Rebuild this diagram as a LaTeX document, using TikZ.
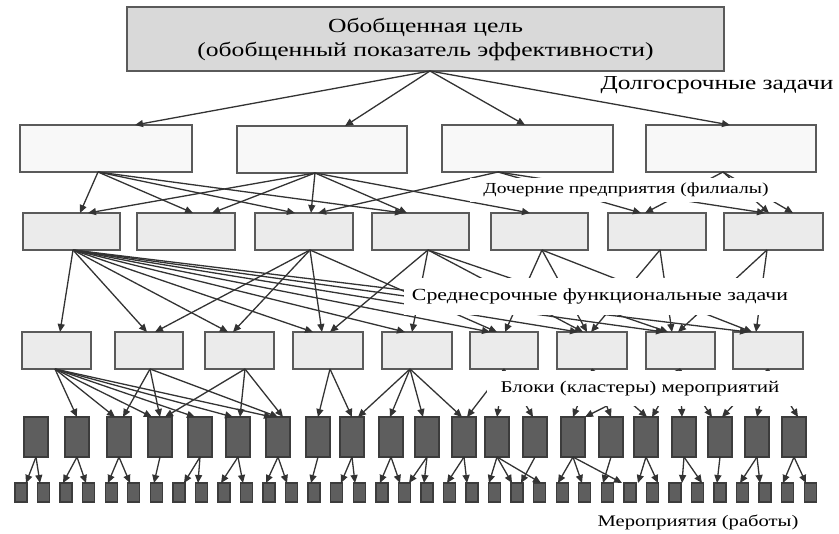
\documentclass[tikz,border=0pt]{standalone}
\usepackage{fontspec}
\usepackage{graphicx}
\setmainfont{Liberation Serif}
\usetikzlibrary{arrows.meta,calc}
\definecolor{edgec}{HTML}{333333}
\definecolor{bordc}{HTML}{5A5A5A}
\definecolor{dkbord}{HTML}{3C3C3C}
\definecolor{topfill}{HTML}{D9D9D9}
\definecolor{lonefill}{HTML}{F8F8F8}
\definecolor{ltwofill}{HTML}{EBEBEB}
\definecolor{dkfill}{HTML}{5E5E5E}
\newcommand\bx[6]{\node[#2, minimum width=#5pt, minimum height=#6pt] (#1) at (#3,#4) {};}
\newcommand\ed[3]{\draw[edge] (#1) -- (#2.north -| #3,0);}
\newcommand\sx[1]{\scalebox{1.28}[1]{#1}}
\begin{document}
\begin{tikzpicture}[x=1pt,y=-1pt,
  box/.style={draw=bordc, line width=1.4pt, inner sep=0pt, outer sep=0pt, anchor=north west},
  topbox/.style={box, fill=topfill},
  lonebox/.style={box, fill=lonefill},
  ltwobox/.style={box, fill=ltwofill},
  dkbox/.style={box, fill=dkfill, draw=dkbord},
  edge/.style={draw=edgec, line width=1.3pt, -{Triangle[length=8pt,width=7pt]}},
  mask/.style={fill=white, inner sep=0pt, outer sep=0pt},
]
\useasboundingbox (0,0) rectangle (839,534);
% top
\node[topbox, minimum width=597pt, minimum height=64pt, align=center,
  font=\fontsize{20}{24}\selectfont] (T) at (127,7)
  {\sx{Обобщенная цель}\\\sx{(обобщенный показатель эффективности)}};
\node[font=\fontsize{19.8}{22}\selectfont, inner sep=0pt] (Ll) at (717,85) {\sx{Долгосрочные задачи}};
% level 1
\bx{A1}{lonebox}{20}{125}{172}{47}
\bx{A2}{lonebox}{237}{126}{170}{47}
\bx{A3}{lonebox}{442}{125}{171}{47}
\bx{A4}{lonebox}{646}{125}{170}{47}
% level 2
\bx{B1}{ltwobox}{23}{213}{97}{37}
\bx{B2}{ltwobox}{137}{213}{98}{37}
\bx{B3}{ltwobox}{255}{213}{98}{37}
\bx{B4}{ltwobox}{372}{213}{97}{37}
\bx{B5}{ltwobox}{491}{213}{97}{37}
\bx{B6}{ltwobox}{608}{213}{98}{37}
\bx{B7}{ltwobox}{724}{213}{99}{37}
% level 3
\bx{C1}{ltwobox}{22}{332}{69}{37}
\bx{C2}{ltwobox}{115}{332}{68}{37}
\bx{C3}{ltwobox}{205}{332}{69}{37}
\bx{C4}{ltwobox}{293}{332}{70}{37}
\bx{C5}{ltwobox}{382}{332}{70}{37}
\bx{C6}{ltwobox}{470}{332}{68}{37}
\bx{C7}{ltwobox}{557}{332}{70}{37}
\bx{C8}{ltwobox}{646}{332}{69}{37}
\bx{C9}{ltwobox}{733}{332}{70}{37}
% level 4
\foreach \i/\xx in {1/24,2/65,3/107,4/148,5/188,6/226,7/266,8/306,9/340,10/379,11/415,
  12/452,13/485,14/523,15/561,16/599,17/634,18/672,19/708,20/745,21/782}
  {\bx{D\i}{dkbox}{\xx}{417}{24}{40}}
% level 5
\foreach \i in {1,...,36}
  {\pgfmathsetmacro\xx{15+22.55*(\i-1)}\bx{E\i}{dkbox}{\xx}{483}{12}{19}}
% source points
\coordinate (sT) at (T.south -| 430,0);
\coordinate (sA1) at (A1.south -| 98,0);
\coordinate (sA2) at (A2.south -| 315,0);
\coordinate (sA3) at (A3.south -| 498,0);
\coordinate (sA4) at (A4.south -| 723,0);
\coordinate (sB1) at (B1.south -| 73,0);
\coordinate (sB3) at (B3.south -| 310,0);
\coordinate (sB4) at (B4.south -| 428,0);
\coordinate (sB5) at (B5.south -| 542,0);
\coordinate (sB6) at (B6.south -| 660,0);
\coordinate (sB7) at (B7.south -| 767,0);
\coordinate (sC1) at (C1.south -| 55,0);
\coordinate (sC2) at (C2.south -| 150,0);
\coordinate (sC3) at (C3.south -| 245,0);
\coordinate (sC4) at (C4.south -| 330,0);
\coordinate (sC5) at (C5.south -| 410,0);
\coordinate (sC6) at (C6.south -| 504,0);
\coordinate (sC7) at (C7.south -| 592,0);
\coordinate (sC8) at (C8.south -| 680,0);
\coordinate (sC9) at (C9.south -| 768,0);
% top -> level 1
\ed{sT}{A1}{135}\ed{sT}{A2}{345}\ed{sT}{A3}{525}\ed{sT}{A4}{730}
% level 1 -> level 2
\ed{sA1}{B1}{80}\ed{sA1}{B2}{193}\ed{sA1}{B3}{295}\ed{sA1}{B4}{403}
\ed{sA2}{B1}{88}\ed{sA2}{B2}{212}\ed{sA2}{B3}{311}\ed{sA2}{B4}{407}\ed{sA2}{B5}{530}
\ed{sA3}{B3}{318}\ed{sA3}{B6}{641}\ed{sA3}{B7}{765}
\ed{sA4}{B6}{645}\ed{sA4}{B7}{769}\ed{sA4}{B7}{793}
% level 2 -> level 3
\ed{sB1}{C1}{60}\ed{sB1}{C2}{147}\ed{sB1}{C3}{228}\ed{sB1}{C4}{313}\ed{sB1}{C5}{405}
\ed{sB1}{C6}{490}\ed{sB1}{C7}{578}\ed{sB1}{C8}{664}\ed{sB1}{C9}{748}
\ed{sB3}{C2}{155}\ed{sB3}{C3}{233}\ed{sB3}{C4}{322}\ed{sB3}{C6}{497}
\ed{sB4}{C4}{330}\ed{sB4}{C5}{412}\ed{sB4}{C7}{583}\ed{sB4}{C8}{668}
\ed{sB5}{C6}{505}\ed{sB5}{C7}{587}\ed{sB5}{C9}{752}
\ed{sB6}{C7}{591}\ed{sB6}{C8}{672}
\ed{sB7}{C8}{678}\ed{sB7}{C9}{756}
% level 3 -> level 4
\ed{sC1}{D2}{77}\ed{sC1}{D3}{115}\ed{sC1}{D4}{152}\ed{sC1}{D5}{195}\ed{sC1}{D6}{233}\ed{sC1}{D7}{272}
\ed{sC2}{D3}{123}\ed{sC2}{D4}{160}\ed{sC2}{D7}{278}
\ed{sC3}{D4}{165}\ed{sC3}{D6}{240}\ed{sC3}{D7}{283}
\ed{sC4}{D8}{318}\ed{sC4}{D9}{352}
\ed{sC5}{D9}{358}\ed{sC5}{D10}{390}\ed{sC5}{D11}{423}\ed{sC5}{D12}{462}
\ed{sC6}{D12}{467}\ed{sC6}{D13}{497}\ed{sC6}{D14}{533}
\ed{sC7}{D15}{573}\ed{sC7}{D16}{611}\ed{sC7}{D17}{647}
\ed{sC8}{D15}{585}\ed{sC8}{D17}{652}\ed{sC8}{D18}{682}\ed{sC8}{D19}{712}
\ed{sC9}{D19}{722}\ed{sC9}{D20}{757}\ed{sC9}{D21}{798}
% level 4 -> level 5
\ed{D1.south}{E1}{26}\ed{D1.south}{E2}{40}
\ed{D2.south}{E3}{63}\ed{D2.south}{E4}{86}
\ed{D3.south}{E5}{108}\ed{D3.south}{E6}{130}
\ed{D4.south}{E7}{154}
\ed{D5.south}{E8}{184}\ed{D5.south}{E9}{198}
\ed{D6.south}{E10}{221}\ed{D6.south}{E11}{243}
\ed{D7.south}{E12}{266}\ed{D7.south}{E13}{287}
\ed{D8.south}{E14}{311}
\ed{D9.south}{E15}{341}\ed{D9.south}{E16}{355}
\ed{D10.south}{E17}{380}\ed{D10.south}{E18}{400}
\ed{D11.south}{E18}{409}\ed{D11.south}{E19}{424}
\ed{D12.south}{E20}{447}\ed{D12.south}{E21}{467}
\ed{D13.south}{E22}{489}\ed{D13.south}{E23}{512}\ed{D13.south}{E24}{541}
\ed{D14.south}{E23}{521}
\ed{D15.south}{E25}{558}\ed{D15.south}{E26}{582}\ed{D15.south}{E28}{622}
\ed{D16.south}{E27}{603}
\ed{D17.south}{E28}{638}\ed{D17.south}{E29}{658}
\ed{D18.south}{E30}{682}\ed{D18.south}{E31}{702}
\ed{D19.south}{E32}{717}
\ed{D20.south}{E33}{740}\ed{D20.south}{E34}{760}
\ed{D21.south}{E35}{783}\ed{D21.south}{E36}{806}
% labels
\node[mask, minimum width=312pt, minimum height=24pt, font=\fontsize{15.3}{18}\selectfont] (Ld) at (626,190) {\sx{Дочерние предприятия (филиалы)}};
\node[mask, minimum width=392pt, minimum height=37pt, font=\fontsize{17}{20}\selectfont] (Lm) at (600,296.5) {\sx{Среднесрочные функциональные задачи}};
\node[mask, minimum width=306pt, minimum height=35pt, font=\fontsize{16.4}{19}\selectfont] (Lb) at (640,388.5) {\sx{Блоки (кластеры) мероприятий}};
\node[inner sep=0pt, font=\fontsize{16.1}{19}\selectfont] (Lw) at (698,522) {\sx{Мероприятия (работы)}};
\end{tikzpicture}
\end{document}
